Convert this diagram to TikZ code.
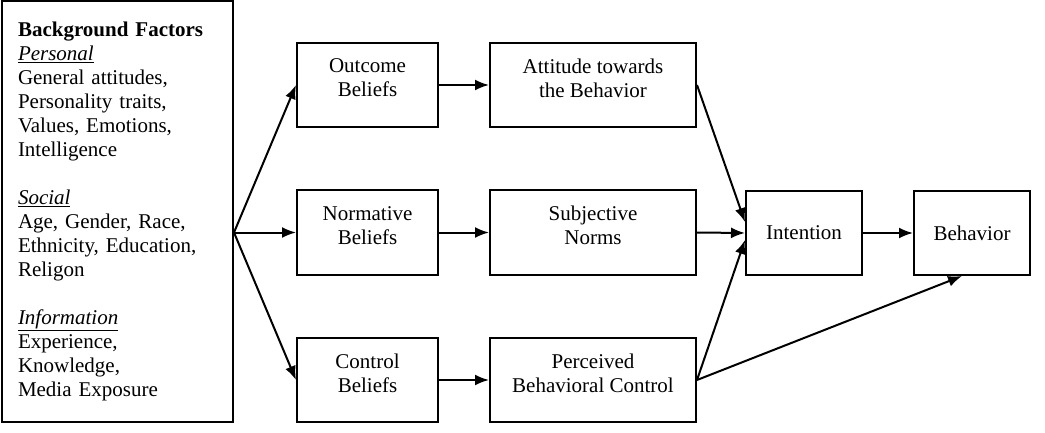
\documentclass[tikz,border=0pt]{standalone}
\usepackage{fontspec}
\setmainfont{Liberation Serif}
\usepackage{tikz}
\usetikzlibrary{arrows.meta, positioning, calc}
\newcommand{\boxfont}{\fontsize{21}{24}\selectfont}
\tikzset{
  factors/.style={rectangle, draw, line width=2pt, text width=199pt, inner xsep=16pt,
                  minimum height=421pt, align=left, font=\boxfont},
  belief/.style={rectangle, draw, line width=2pt, minimum width=141pt, minimum height=84pt,
                 align=center, font=\boxfont, text depth=14pt},
  construct/.style={rectangle, draw, line width=2pt, minimum width=206pt, minimum height=84pt,
                    align=center, font=\boxfont, text depth=14pt},
  outcome/.style={rectangle, draw, line width=2pt, minimum width=116pt, minimum height=84pt,
                  align=center, font=\boxfont},
  arr/.style={-{Latex[length=14pt, width=11pt]}, line width=2pt},
}

\begin{document}
\begin{tikzpicture}[x=1pt, y=-1pt]
\useasboundingbox (0,0) rectangle (1045,433);

% ========== Background factors ==========
\node[factors] (bg) at (117.5, 211.5) {\textbf{Background Factors}\\
  \underline{\textit{Personal}}\\
  General attitudes,\\
  Personality traits,\\
  Values, Emotions,\\
  Intelligence\\[24pt]
  \underline{\textit{Social}}\\
  Age, Gender, Race,\\
  Ethnicity, Education,\\
  Religon\\[24pt]
  \underline{\textit{Information}}\\
  Experience,\\
  Knowledge,\\
  Media Exposure};

% ========== Beliefs ==========
\node[belief] (ob) at (367.5, 85.0)  {Outcome\\Beliefs};
\node[belief] (nb) at (367.5, 232.5) {Normative\\Beliefs};
\node[belief] (cb) at (367.5, 380.0) {Control\\Beliefs};

% ========== Attitude, norms, control ==========
\node[construct] (at) at (593.0, 85.0)  {Attitude towards\\the Behavior};
\node[construct] (sn) at (593.0, 232.5) {Subjective\\Norms};
\node[construct] (pc) at (593.0, 380.0) {Perceived\\Behavioral Control};

% ========== Intention and behavior ==========
\node[outcome] (in) at (804.0, 233.0) {Intention};
\node[outcome] (bh) at (972.0, 233.0) {Behavior};

% ========== Arrows ==========
\coordinate (fan) at (bg.east |- nb.west);
\draw[arr] (fan) -- (ob.west);
\draw[arr] (fan) -- (nb.west);
\draw[arr] (fan) -- (cb.west);

\draw[arr] (ob) -- (at);
\draw[arr] (nb) -- (sn);
\draw[arr] (cb) -- (pc);

\draw[arr] (at.east) -- ([yshift=11pt]in.west);
\draw[arr] (sn.east) -- (in.west);
\draw[arr] (pc.east) -- ([yshift=-7pt]in.west);
\draw[arr] (pc.east) -- ([xshift=-10pt]bh.south);

\draw[arr] (in) -- (bh);

\end{tikzpicture}
\end{document}
